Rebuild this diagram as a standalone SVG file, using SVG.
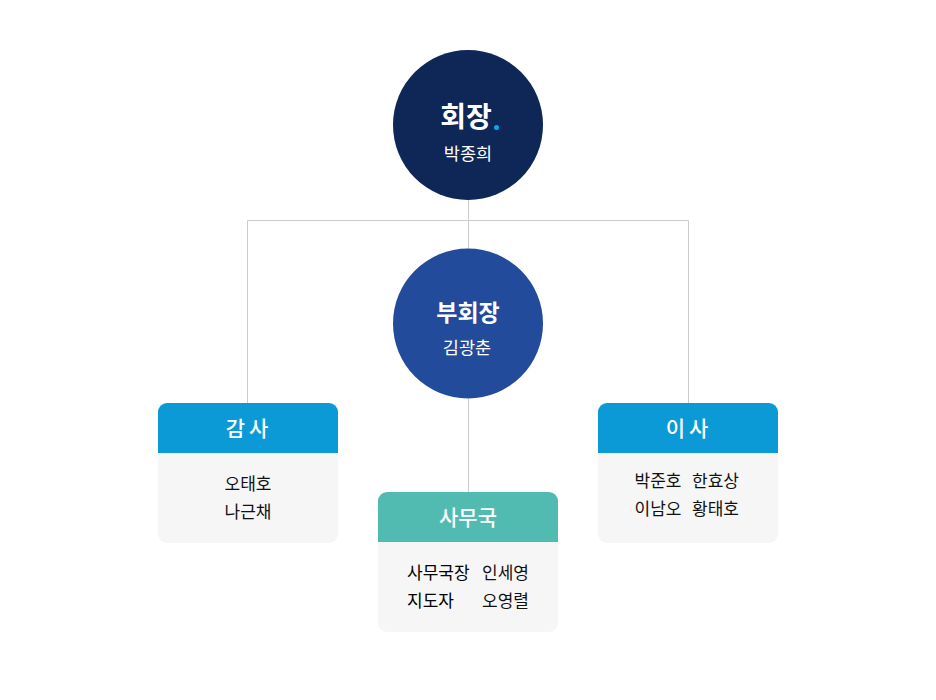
<svg xmlns="http://www.w3.org/2000/svg" width="936" height="700" viewBox="0 0 936 700">
<style>
text{font-family:"Noto Sans CJK KR","Noto Sans",sans-serif;text-anchor:middle}
.line{stroke:#cccccc;stroke-width:1;fill:none}
.title{fill:#fff;font-weight:700}
.sub{fill:#fff;font-size:17.5px}
.hdr{fill:#fff;font-size:21px;font-weight:500}
.body{fill:#f6f6f6}
.name{fill:#111;font-size:17px;font-weight:400}
.role{fill:#000}
.l{text-anchor:start}
</style>
<rect width="936" height="700" fill="#fff"/>
<g id="connectors">
<path class="line" d="M468.5 200V249M247.5 403V220.5H688.5V403M468.5 399V492"/>
</g>
<g id="chairman">
<circle cx="468" cy="125" r="75" fill="#0e2757"/>
<text class="title" x="466" y="127" font-size="28">회장</text>
<circle cx="496.5" cy="127.5" r="2.5" fill="#00aeef"/>
<text class="sub" x="468" y="160">박종희</text>
</g>
<g id="vice">
<circle cx="468" cy="323.5" r="75" fill="#234b9b"/>
<text class="title" x="468" y="321" font-size="23">부회장</text>
<text class="sub" x="467" y="354">김광춘</text>
</g>
<g id="audit">
<rect class="body" x="158" y="403" width="180" height="140" rx="9"/>
<path d="M158 453V412a9 9 0 0 1 9-9h162a9 9 0 0 1 9 9V453Z" fill="#0c9ad6"/>
<text class="hdr" x="249" y="436" letter-spacing="4">감사</text>
<text class="name" x="248" y="490">오태호</text>
<text class="name" x="248" y="518">나근채</text>
</g>
<g id="directors">
<rect class="body" x="598" y="403" width="180" height="140" rx="9"/>
<path d="M598 453V412a9 9 0 0 1 9-9h162a9 9 0 0 1 9 9V453Z" fill="#0c9ad6"/>
<text class="hdr" x="689" y="436" letter-spacing="4">이사</text>
<text class="name" x="658" y="487">박준호</text>
<text class="name" x="715.5" y="487">한효상</text>
<text class="name" x="658" y="515">이남오</text>
<text class="name" x="715.5" y="515">황태호</text>
</g>
<g id="office">
<rect class="body" x="378" y="492" width="180" height="140" rx="9"/>
<path d="M378 542V501a9 9 0 0 1 9-9h162a9 9 0 0 1 9 9V542Z" fill="#52bbb1"/>
<text class="hdr" x="468" y="525" font-weight="400">사무국</text>
<text class="name l role" x="407" y="579">사무국장</text>
<text class="name l" x="482" y="579">인세영</text>
<text class="name l role" x="407" y="607">지도자</text>
<text class="name l" x="482" y="607">오영렬</text>
</g>
</svg>
